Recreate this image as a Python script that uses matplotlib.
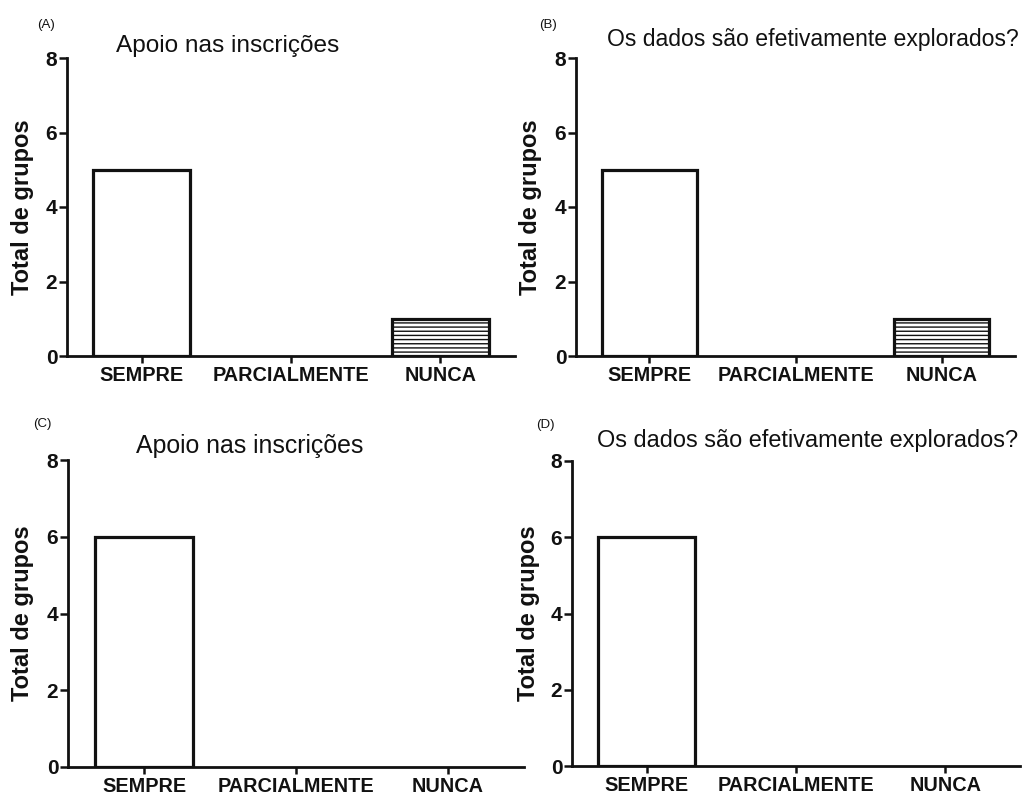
import matplotlib
matplotlib.use("Agg")
import matplotlib.pyplot as plt

plt.rcParams['font.family'] = ['Liberation Sans', 'DejaVu Sans']
plt.rcParams['hatch.linewidth'] = 1.0

categories = ['SEMPRE', 'PARCIALMENTE', 'NUNCA']
apoio_a = [5, 0, 1]
dados_b = [5, 0, 1]
apoio_c = [6, 0, 0]
dados_d = [6, 0, 0]
y_ticks = [0, 2, 4, 6, 8]

title_apoio = 'Apoio nas inscrições'
title_dados = 'Os dados são efetivamente explorados?'
ylabel = 'Total de grupos'

W, H = 1032, 796
fig = plt.figure(figsize=(W / 100, H / 100), dpi=100)
INK = '#111111'


def px_rect(left, right, top, bottom):
    return [left / W, 1 - bottom / H, (right - left) / W, (bottom - top) / H]


panels = [
    # values, axes box (px), title, title centre/baseline (px), title size, panel tag + pos, ylabel x
    (apoio_a, (67, 515, 58, 356), title_apoio, (228, 52), 17.6, '(A)', (46, 25), 23),
    (dados_b, (576, 1015, 58, 356), title_dados, (813, 46), 16.6, '(B)', (548, 25), 531),
    (apoio_c, (68, 524, 460, 767), title_apoio, (250, 453), 17.9, '(C)', (42, 424), 23),
    (dados_d, (572, 1020, 461, 766), title_dados, (808, 447), 16.9, '(D)', (545, 425), 528),
]

for values, box, title, tpos, tsize, tag, tagpos, ylx in panels:
    ax = fig.add_axes(px_rect(*box))
    x = range(len(categories))
    bars = ax.bar(x, values, width=0.65, color='white', edgecolor=INK,
                  linewidth=2.3, zorder=3)
    bars[2].set_hatch('----')
    # empty categories leave only the baseline
    for bar, v in zip(bars, values):
        if v == 0:
            bar.set_linewidth(0)
            bar.set_hatch(None)

    ax.set_xlim(-0.5, 2.5)
    ax.set_ylim(0, 8)
    ax.set_yticks(y_ticks)
    ax.set_xticks(list(x))
    ax.set_xticklabels(categories, fontsize=14.3, fontweight='bold', color=INK)
    ax.set_yticklabels([str(v) for v in y_ticks], fontsize=15, fontweight='bold', color=INK)

    for side in ('top', 'right'):
        ax.spines[side].set_visible(False)
    for side in ('left', 'bottom'):
        ax.spines[side].set_linewidth(2.0)
        ax.spines[side].set_color(INK)
        ax.spines[side].set_zorder(4)
    ax.tick_params(axis='y', length=5.5, width=1.8, pad=1.5, color=INK)
    ax.tick_params(axis='x', length=5, width=1.8, pad=2, color=INK)

    ax.set_ylabel(ylabel, fontsize=17, fontweight='bold', color=INK, va='center')
    ax.yaxis.set_label_coords(ylx / W, (1 - (box[2] + box[3]) / 2 / H),
                              transform=fig.transFigure)

    fig.text(tpos[0] / W, 1 - tpos[1] / H, title, fontsize=tsize,
             ha='center', va='baseline', color=INK)
    fig.text(tagpos[0] / W, 1 - tagpos[1] / H, tag, fontsize=9.5,
             ha='center', va='center', color=INK)

fig.savefig('out.png', dpi=100, facecolor='white')
